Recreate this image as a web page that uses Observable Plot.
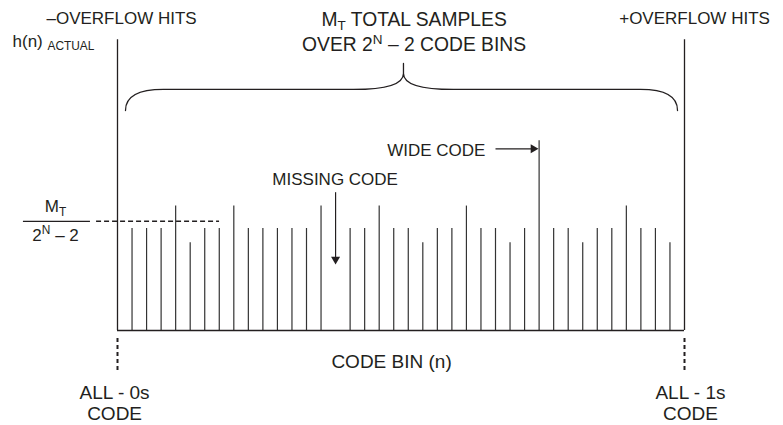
<!DOCTYPE html>
<html><head><meta charset="utf-8">
<script src="https://cdn.jsdelivr.net/npm/d3@7"></script>
<script src="https://cdn.jsdelivr.net/npm/@observablehq/plot@0.6"></script>
<style>body{margin:0;background:#fff} svg{display:block} text{white-space:pre}</style>
</head><body><div id="chart"></div>
<script>
// ---- data (code bins 1..38 between the two overflow bins 0 and 39) ----
const codeBins = [1,2,3,4,5,6,7,8,9,10,11,12,13,14,15,16,17,18,19,20,21,22,23,24,25,26,27,28,29,30,31,32,33,34,35,36,37,38];
const hits     = [100,100,100,122,86,100,100,122,100,100,100,100,100,122,0,100,100,122,100,100,86,100,100,122,100,100,86,100,186,100,100,86,100,100,122,100,100,86];
const overflowBins = [0, 39];
const overflowHits = [285, 285];
const idealHits = 107;          // M_T / (2^N - 2)
const missingBin = 15;
const wideBin = 29;

// ---- annotation layout (data units: x = code bin, y = hits) ----
const INK = "#231f20";
const FONT = "Liberation Sans, Arial, Helvetica, sans-serif";
const labels = [
  {t:"–OVERFLOW HITS", x:0.28, y:300.7, s:17, a:"middle"},
  {t:"+OVERFLOW HITS", x:39.69, y:300.7, s:17, a:"middle"},
  {t:"h(n) _{ACTUAL}", x:-7.22, y:278.4, s:17, a:"start"},
  {t:"M_{T} TOTAL SAMPLES", x:20.4, y:299, s:19.3, a:"middle"},
  {t:"OVER 2^{N} – 2 CODE BINS", x:20.4, y:274.2, s:19.3, a:"middle"},
  {t:"M_{T}", x:-4.26, y:115.7, s:17, a:"middle"},
  {t:"2^{N} – 2", x:-4.26, y:88.2, s:17, a:"middle"},
  {t:"MISSING CODE", x:14.97, y:142.2, s:17, a:"middle"},
  {t:"WIDE CODE", x:25.31, y:170.6, s:17, a:"end"},
  {t:"CODE BIN (n)", x:18.85, y:-37.25, s:19, a:"middle"},
  {t:"ALL - 0s", x:-0.2, y:-66.7, s:19, a:"middle"},
  {t:"CODE", x:-0.2, y:-87.3, s:19, a:"middle"},
  {t:"ALL - 1s", x:39.41, y:-66.7, s:19, a:"middle"},
  {t:"CODE", x:39.41, y:-87.3, s:19, a:"middle"}
];
// curly brace: start point, then (control, end) pairs of quadratic curves
const brace = [
  [0.55,215.7],
  [0.55,236.3],[3.16,236.3],
  [9.7,236.3],[16.23,236.3],
  [19.67,236.3],[19.67,252],
  [19.67,256.9],[19.67,261.8],
  [19.67,256.9],[19.67,252],
  [19.67,236.3],[23.11,236.3],
  [29.5,236.3],[35.97,236.3],
  [38.52,236.3],[38.52,215.7]
];
function quadCurve(context) {
  let pts;
  return {
    areaStart(){}, areaEnd(){},
    lineStart(){ pts = []; },
    point(x, y){ pts.push([+x, +y]); },
    lineEnd(){
      if (!pts.length) return;
      context.moveTo(pts[0][0], pts[0][1]);
      for (let i = 1; i + 1 < pts.length; i += 2)
        context.quadraticCurveTo(pts[i][0], pts[i][1], pts[i+1][0], pts[i+1][1]);
    }
  };
}

const bars = codeBins.map((b, i) => ({bin: b, h: hits[i]}));
const walls = overflowBins.map((b, i) => ({bin: b, h: overflowHits[i]}));

const textMark = (anchor) => Plot.text(labels.filter(d => d.a === anchor), {
  x: "x", y: "y", text: "t", fontSize: d => d.s, textAnchor: anchor,
  lineAnchor: "bottom", fill: INK
});

const chart = Plot.plot({
  width: 783, height: 425,
  style: {fontFamily: FONT, background: "#fff"},
  x: {domain: [0, 39], range: [117, 684], axis: null},
  y: {domain: [0, 100], range: [330, 228], axis: null},
  marks: [
    // code-bin hit lines
    Plot.ruleX(bars, {x: "bin", y1: 0, y2: "h", stroke: "#333", strokeWidth: 1.2}),
    // overflow walls
    Plot.ruleX(walls, {x: "bin", y1: 0, y2: "h", stroke: INK, strokeWidth: 1.3}),
    // baseline
    Plot.ruleY([0], {x1: overflowBins[0], x2: overflowBins[1], stroke: INK, strokeWidth: 1.4}),
    // dashed extensions below the walls
    Plot.ruleX(overflowBins, {y1: -7.8, y2: -42.2, stroke: INK, strokeWidth: 2, strokeDasharray: "4,3"}),
    // ideal level (dashed) and fraction bar
    Plot.ruleY([idealHits], {x1: -1.44, x2: 7.02, stroke: INK, strokeWidth: 1.5, strokeDasharray: "5,3"}),
    Plot.ruleY([idealHits], {x1: -6.47, x2: -1.86, stroke: INK, strokeWidth: 1.1}),
    // brace
    Plot.line(brace, {x: d => d[0], y: d => d[1], curve: quadCurve, stroke: INK, strokeWidth: 1.3}),
    // missing code arrow
    Plot.link([missingBin], {x1: d => d, x2: d => d, y1: 135.6, y2: 70, stroke: INK, strokeWidth: 1.2}),
    Plot.dot([missingBin], {x: d => d, y: 69.8, symbol: "triangle", r: 3.35, rotate: 180, fill: INK, stroke: "none"}),
    // wide code arrow
    Plot.link([wideBin], {x1: 26, x2: 28.6, y1: 178.1, y2: 178.1, stroke: INK, strokeWidth: 1.2}),
    Plot.dot([wideBin], {x: 28.6, y: 178.1, symbol: "triangle", r: 3.35, rotate: 90, fill: INK, stroke: "none"}),
    textMark("middle"), textMark("start"), textMark("end")
  ]
});

// rich text: _{sub} and ^{sup}
function rich(svg) {
  const NS = "http://www.w3.org/2000/svg";
  for (const t of svg.querySelectorAll("text")) {
    const s = t.textContent;
    if (!/[_^]\{/.test(s)) continue;
    t.textContent = "";
    let pending = 0;
    for (const p of s.split(/([_^]\{[^}]*\})/)) {
      if (!p) continue;
      const ts = document.createElementNS(NS, "tspan");
      const m = p.match(/^([_^])\{([^}]*)\}$/);
      if (m) {
        const k = 0.7, off = m[1] === "_" ? 0.22 : -0.36;
        ts.setAttribute("font-size", "70%");
        ts.setAttribute("dy", (off / k).toFixed(3) + "em");
        ts.textContent = m[2];
        pending = -off;
      } else {
        if (pending) ts.setAttribute("dy", pending.toFixed(3) + "em");
        pending = 0;
        ts.textContent = p;
      }
      t.appendChild(ts);
    }
  }
}
rich(chart);
document.getElementById("chart").appendChild(chart);
</script>
</body></html>
